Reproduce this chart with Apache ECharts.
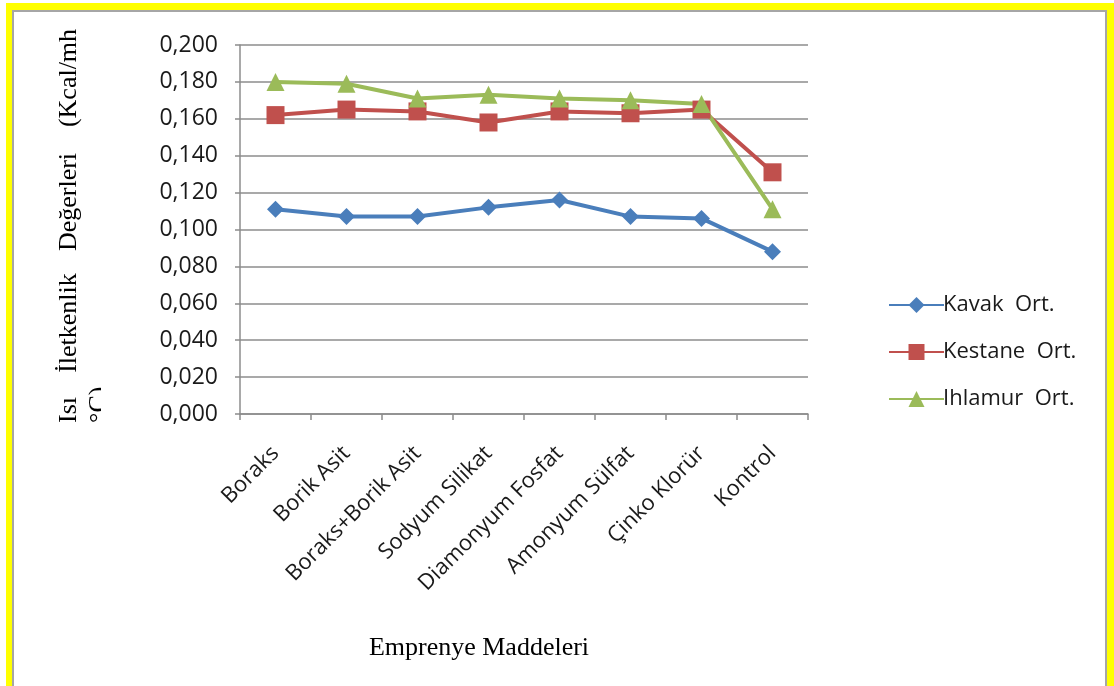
<!DOCTYPE html>
<html>
<head>
<meta charset="utf-8">
<script src="https://cdn.jsdelivr.net/npm/echarts@6/dist/echarts.min.js"></script>
<style>
  html, body { margin: 0; padding: 0; background: #ffffff; }
  #frame { position: absolute; left: 6px; top: 3px; width: 1108px; height: 683px; background: #ffff00; }
  #panel { position: absolute; left: 12px; top: 10px; width: 1091px; height: 674px; background: #ffffff;
           border: 2px solid #a6a6a6; }
  #chart { position: absolute; left: 0; top: 0; width: 1114px; height: 686px; }
</style>
</head>
<body>
<div id="frame"></div>
<div id="panel"></div>
<div id="chart"></div>
<script>
// Impregnation materials (x categories)
const categories = ['Boraks', 'Borik Asit', 'Boraks+Borik Asit', 'Sodyum Silikat',
  'Diamonyum Fosfat', 'Amonyum Sülfat', 'Çinko Klorür', 'Kontrol'];

// Thermal conductivity averages per wood species
const kavakOrt   = [0.111, 0.107, 0.107, 0.112, 0.116, 0.107, 0.106, 0.088];
const kestaneOrt = [0.162, 0.165, 0.164, 0.158, 0.164, 0.163, 0.165, 0.131];
const ihlamurOrt = [0.180, 0.179, 0.171, 0.173, 0.171, 0.170, 0.168, 0.111];

const seriesNames = ['Kavak  Ort.', 'Kestane  Ort.', 'Ihlamur  Ort.'];

// Y axis title words (two wrapped lines in a rotated box)
const yTitleWords = ['Isı', 'İletkenlik', 'Değerleri', '(Kcal/mh'];
const yTitleTail = '°C)';
const xTitle = 'Emprenye Maddeleri';

const sans = '"Open Sans", "Liberation Sans", sans-serif';
const serif = '"Liberation Serif", "DejaVu Serif", serif';
const gridColor = '#8c8c8c';

const chart = echarts.init(document.getElementById('chart'), null, { renderer: 'canvas' });

function mkSeries(name, data, color, symbol, size) {
  return {
    name: name, type: 'line', data: data,
    symbol: symbol, symbolSize: size,
    lineStyle: { color: color, width: 4 },
    itemStyle: { color: color },
    emphasis: { disabled: true },
    animation: false
  };
}

const wordCenters = [410, 323, 202, 78];
const graphics = yTitleWords.map((w, i) => ({
  type: 'text', x: 69, y: wordCenters[i], rotation: Math.PI / 2,
  style: { text: w, font: '26px ' + serif, fill: '#000', align: 'center', verticalAlign: 'middle' }
}));
graphics.push({
  type: 'text', x: 99, y: 423, rotation: Math.PI / 2,
  style: { text: yTitleTail, font: '26px ' + serif, fill: '#000', align: 'left', verticalAlign: 'middle' }
});
// the wrapped second line is cut by its text box
graphics.push({ type: 'rect', shape: { x: 101, y: 380, width: 20, height: 60 }, style: { fill: '#fff' }, z: 100 });
graphics.push({
  type: 'text', x: 479, y: 648,
  style: { text: xTitle, font: '26px ' + serif, fill: '#000', align: 'center', verticalAlign: 'middle' }
});

chart.setOption({
  animation: false,
  backgroundColor: 'transparent',
  grid: { left: 240, right: 306, top: 45, bottom: 272, containLabel: false },
  xAxis: {
    type: 'category', data: categories, boundaryGap: true,
    axisLine: { lineStyle: { color: gridColor, width: 1.5 } },
    axisTick: { show: true, length: 6, alignWithLabel: false, lineStyle: { color: gridColor, width: 1.5 } },
    axisLabel: { rotate: 45, interval: 0, margin: 36, color: '#1a1a1a', fontSize: 22, fontFamily: sans }
  },
  yAxis: {
    type: 'value', min: 0, max: 0.2, interval: 0.02,
    axisLine: { show: true, lineStyle: { color: gridColor, width: 1.5 } },
    axisTick: { show: true, length: 5, lineStyle: { color: gridColor, width: 1.5 } },
    splitLine: { lineStyle: { color: gridColor, width: 1.5 } },
    axisLabel: {
      margin: 22, color: '#1a1a1a', fontSize: 23, fontFamily: sans,
      formatter: v => v.toFixed(3).replace('.', ',')
    }
  },
  legend: {
    orient: 'vertical', left: 883, top: 289,
    itemWidth: 55, itemHeight: 20, itemGap: 25,
    textStyle: { fontSize: 22, fontFamily: sans, color: '#1a1a1a', padding: [0, 0, 0, -6] },
    data: seriesNames
  },
  series: [
    mkSeries(seriesNames[0], kavakOrt, '#4a7ebb', 'diamond', 17),
    mkSeries(seriesNames[1], kestaneOrt, '#c0504d', 'rect', 18),
    mkSeries(seriesNames[2], ihlamurOrt, '#9bbb59', 'triangle', 18)
  ],
  graphic: graphics
});
</script>
</body>
</html>
